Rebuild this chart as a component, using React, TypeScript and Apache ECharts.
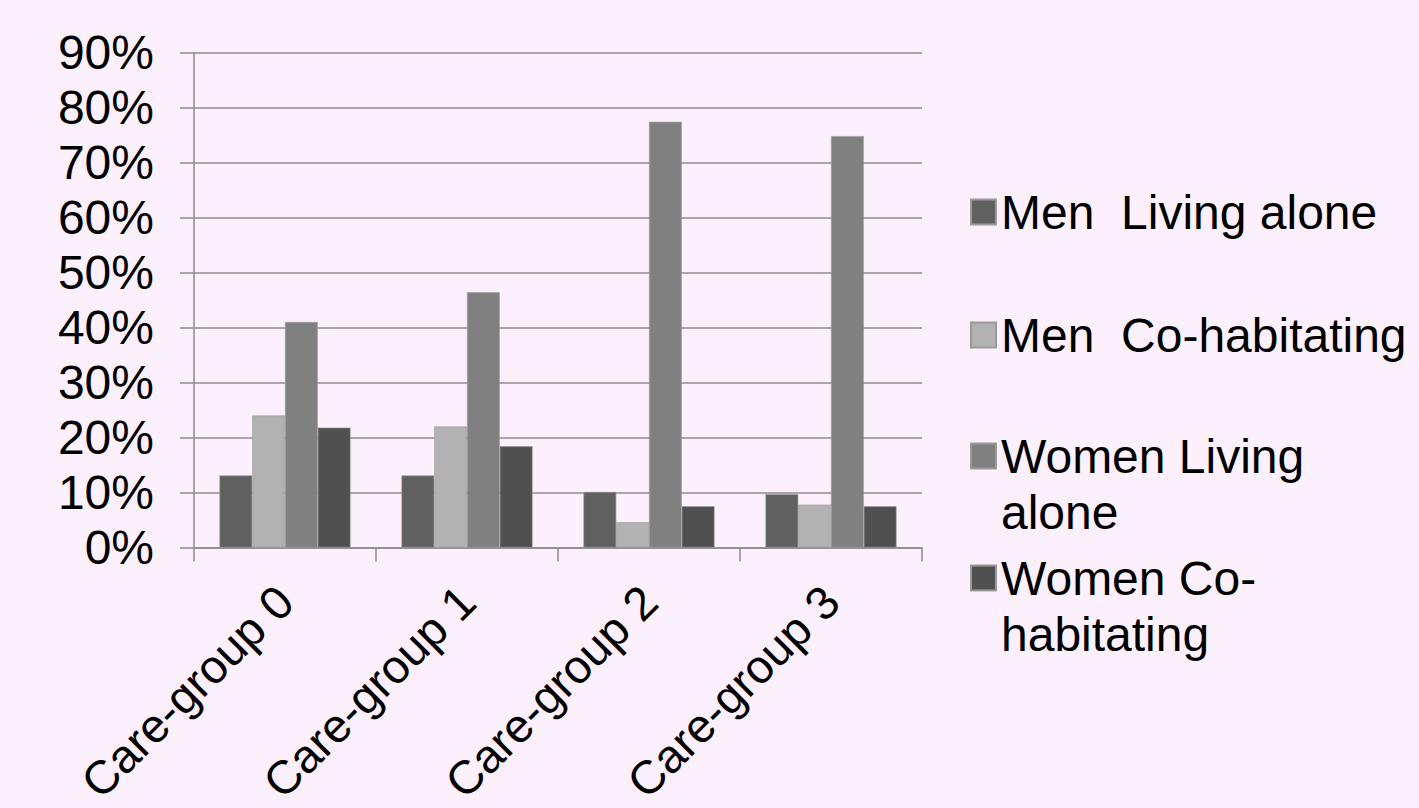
import React, { useEffect, useRef } from "react";
import * as echarts from "echarts";

const categories = ["Care-group 0", "Care-group 1", "Care-group 2", "Care-group 3"];
const seriesNames = ["Men  Living alone", "Men  Co-habitating", "Women Living alone", "Women Co-habitating"];
const legendLabels = ["Men  Living alone", "Men  Co-habitating", "\nWomen Living\nalone", "\nWomen Co-\nhabitating"];
const menLivingAlone = [13.1, 13.1, 10.1, 9.7];
const menCohabiting = [24.0, 22.0, 4.6, 7.8];
const womenLivingAlone = [41.0, 46.4, 77.4, 74.8];
const womenCohabiting = [21.8, 18.4, 7.5, 7.5];
const seriesValues = [menLivingAlone, menCohabiting, womenLivingAlone, womenCohabiting];
const seriesColors = ["#606060", "#B2B2B2", "#808080", "#505050"];
const yTickMax = 90;
const yTickStep = 10;

const FONT = "'Liberation Sans', Arial, sans-serif";
const BG = "#FDF0FD";

export default function App() {
  const ref = useRef<HTMLDivElement>(null);
  useEffect(() => {
    if (!ref.current) return;
    const chart = echarts.init(ref.current, undefined, { renderer: "svg" });
    const legendCenters = [212, 335, 456, 578];
    const legends = seriesNames.map((name, i) => {
      const multi = legendLabels[i].includes("\n");
      return {
        show: true,
        orient: "vertical",
        left: 970,
        top: legendCenters[i] - (multi ? 84 : 28),
        padding: 0,
        icon: "rect",
        itemWidth: 25,
        itemHeight: 25,
        selectedMode: false,
        data: [name],
        formatter: () => legendLabels[i],
        textStyle: {
          fontFamily: FONT,
          fontSize: 48,
          color: "#000",
          lineHeight: 56,
        },
      };
    });
    chart.setOption({
      animation: false,
      backgroundColor: BG,
      textStyle: { fontFamily: FONT },
      grid: { left: 194, right: 497, top: 52.5, bottom: 260.5, containLabel: false, outerBoundsMode: "none" },
      legend: legends,
      xAxis: {
        type: "category",
        data: categories,
        axisLine: { show: true, lineStyle: { color: "#8C8C8C", width: 1.5 } },
        axisTick: { show: true, length: 14, lineStyle: { color: "#8C8C8C", width: 1.5 } },
        axisLabel: {
          interval: 0,
          rotate: 45,
          margin: 46,
          fontSize: 47,
          fontFamily: FONT,
          color: "#000",
        },
        splitLine: { show: false },
      },
      yAxis: {
        type: "value",
        min: 0,
        max: yTickMax,
        interval: yTickStep,
        axisLine: { show: true, lineStyle: { color: "#8C8C8C", width: 1.5 } },
        axisTick: { show: true, length: 14, lineStyle: { color: "#8C8C8C", width: 1.5 } },
        axisLabel: {
          formatter: "{value}%",
          margin: 40,
          fontSize: 48,
          fontFamily: FONT,
          color: "#000",
        },
        splitLine: { show: true, lineStyle: { color: "#8C8C8C", width: 1.5 } },
      },
      series: seriesNames.map((name, i) => ({
        name,
        type: "bar",
        data: seriesValues[i],
        barGap: "0%",
        barCategoryGap: "28%",
        itemStyle: { color: seriesColors[i], borderColor: "#9A9A9A", borderWidth: 0.6 },
      })),
    });
    return () => chart.dispose();
  }, []);
  return (
    <div
      ref={ref}
      style={{ position: "absolute", left: 0, top: 0, width: 1419, height: 808, background: BG }}
    />
  );
}
